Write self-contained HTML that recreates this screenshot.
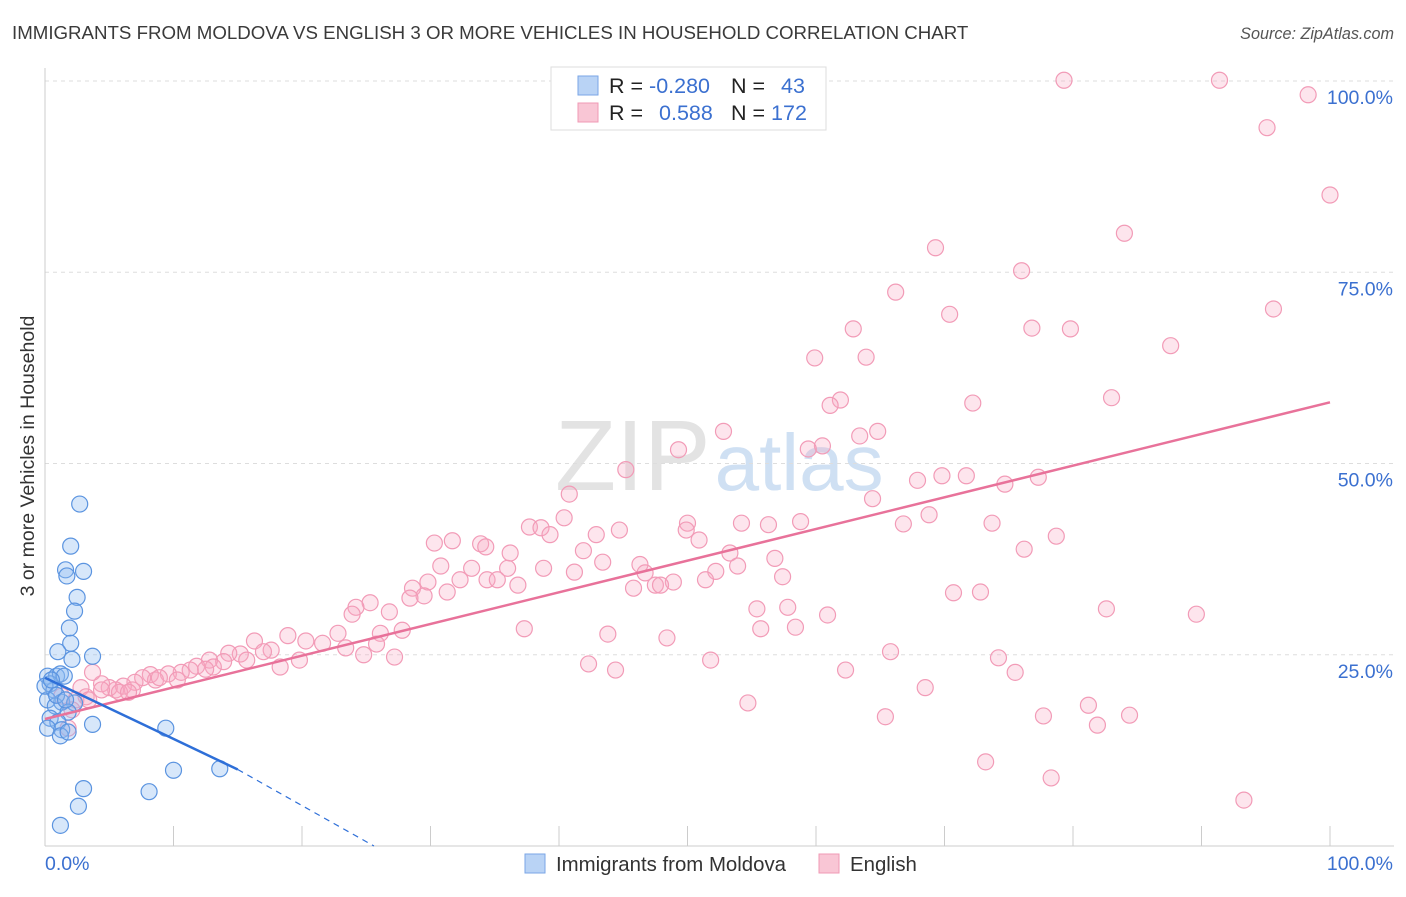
<!DOCTYPE html>
<html><head><meta charset="utf-8"><style>
body{margin:0;background:#fff;font-family:"Liberation Sans",sans-serif;}
svg text{font-family:"Liberation Sans",sans-serif;}
</style></head><body>
<svg id="chart" width="1406" height="892" xmlns="http://www.w3.org/2000/svg">
<text x="12" y="39" font-size="18.7" fill="#3a3a3a">IMMIGRANTS FROM MOLDOVA VS ENGLISH 3 OR MORE VEHICLES IN HOUSEHOLD CORRELATION CHART</text>
<text x="1394" y="39" font-size="16.2" fill="#555" font-style="italic" text-anchor="end">Source: ZipAtlas.com</text>
<text x="555" y="490" font-size="100" fill="#e3e3e3" font-family="Liberation Serif">ZIP<tspan fill="#cfe0f3" font-family="Liberation Sans" font-size="80" dx="4">atlas</tspan></text>
<text transform="translate(34,456) rotate(-90)" font-size="19.5" fill="#333" text-anchor="middle">3 or more Vehicles in Household</text>
<g id="grid"></g><g id="axes"></g><g id="pink"></g><g id="blue"></g><g id="trends"></g>
<g>
<rect x="551" y="67" width="275" height="63" fill="#fff" stroke="#ddd"/>
<rect x="578" y="76" width="20" height="19" fill="#b9d3f5" stroke="#7aa6e6"/>
<rect x="578" y="103" width="20" height="19" fill="#f9c6d5" stroke="#f09ab5"/>
<text x="609" y="93" font-size="21.5" fill="#222">R = <tspan fill="#3b70d0">-0.280</tspan></text>
<text x="731" y="93" font-size="21.5" fill="#222">N = <tspan fill="#3b70d0" dx="10">43</tspan></text>
<text x="609" y="120" font-size="21.5" fill="#222">R = <tspan fill="#3b70d0" dx="10">0.588</tspan></text>
<text x="731" y="120" font-size="21.5" fill="#222">N = <tspan fill="#3b70d0">172</tspan></text>
</g>
<g>
<rect x="525" y="854" width="20" height="19" fill="#b9d3f5" stroke="#7aa6e6"/>
<text x="556" y="871" font-size="20.4" fill="#333">Immigrants from Moldova</text>
<rect x="819" y="854" width="20" height="19" fill="#f9c6d5" stroke="#f09ab5"/>
<text x="850" y="871" font-size="20.4" fill="#333">English</text>
</g>
</svg>
<script>
const yTicks=[25,50,75,100];
const yTickLabels=["25.0%","50.0%","75.0%","100.0%"];
const xTickLabels=["0.0%","100.0%"];
const blueX=[2.7,2.0,1.6,1.7,3.0,2.5,2.3,1.9,2.0,1.0,3.7,2.1,0.2,0.9,1.2,1.5,0.4,0.7,0.2,1.3,2.3,0.8,1.8,0.4,1.0,3.7,0.2,1.3,1.2,1.8,9.4,10.0,13.6,3.0,8.1,2.6,1.2,0,0.5,0.9,1.6];
const blueY=[44.7,39.2,36.1,35.3,35.9,32.5,30.7,28.5,26.5,25.4,24.8,24.4,22.2,22.2,22.5,22.2,21.2,20.4,19.1,18.8,18.7,18.3,17.5,16.7,16.2,15.9,15.4,15.2,14.4,14.9,15.4,9.9,10.1,7.5,7.1,5.2,2.7,20.9,21.7,19.7,19.1];
const pinkX=[79.3,91.4,98.3,95.1,100,84.0,69.3,76.0,66.2,95.6,70.4,62.9,76.8,79.8,87.6,59.9,63.9,83.0,61.9,61.1,72.2,52.8,64.8,63.4,60.5,59.4,49.3,45.2,69.8,71.7,67.9,77.3,74.7,40.8,64.4,40.4,37.7,38.6,39.3,50.0,54.2,56.3,58.8,68.8,66.8,73.7,44.7,42.9,49.9,50.9,78.7,76.2,30.3,31.7,33.9,34.3,36.2,41.9,43.4,53.3,56.8,53.9,46.3,30.8,33.2,36.0,38.8,41.2,46.7,52.2,57.4,29.8,32.3,34.4,35.2,36.8,28.6,29.5,45.8,47.5,48.9,47.9,51.4,28.4,31.3,25.3,24.2,26.8,23.9,55.4,57.8,82.6,89.6,70.7,72.8,60.9,37.3,27.8,26.1,22.8,55.7,58.4,43.8,48.4,18.9,16.3,20.3,21.6,23.4,25.8,65.8,74.2,51.8,42.3,44.4,62.3,75.5,27.2,24.8,19.8,17.6,17.0,15.2,14.3,15.7,18.3,13.9,12.8,13.1,11.8,12.5,11.3,10.6,9.6,8.2,8.6,7.6,10.3,8.9,7.0,6.1,5.5,5.0,4.4,3.7,6.8,5.8,6.5,4.4,2.8,3.2,1.3,2.4,3.4,2.1,1.8,68.5,54.7,81.2,84.4,65.4,77.7,81.9,73.2,78.3,93.3];
const pinkY=[100.1,100.1,98.2,93.9,85.1,80.1,78.2,75.2,72.4,70.2,69.5,67.6,67.7,67.6,65.4,63.8,63.9,58.6,58.3,57.6,57.9,54.2,54.2,53.6,52.3,51.9,51.8,49.2,48.4,48.4,47.8,48.2,47.3,46.0,45.4,42.9,41.7,41.6,40.7,42.2,42.2,42.0,42.4,43.3,42.1,42.2,41.3,40.7,41.3,40.0,40.5,38.8,39.6,39.9,39.5,39.1,38.3,38.6,37.1,38.3,37.6,36.6,36.8,36.6,36.3,36.3,36.3,35.8,35.7,35.9,35.2,34.5,34.8,34.8,34.8,34.1,33.7,32.7,33.7,34.1,34.5,34.1,34.8,32.4,33.2,31.8,31.2,30.6,30.3,31.0,31.2,31.0,30.3,33.1,33.2,30.2,28.4,28.2,27.8,27.8,28.4,28.6,27.7,27.2,27.5,26.8,26.8,26.5,25.9,26.4,25.4,24.6,24.3,23.8,23.0,23.0,22.7,24.7,25.0,24.3,25.6,25.4,25.1,25.2,24.3,23.4,24.1,24.3,23.4,23.5,23.1,23.0,22.7,22.5,22.4,21.7,22.0,21.7,22.0,21.4,20.9,20.4,20.7,21.2,22.7,20.4,20.1,20.1,20.4,20.7,19.5,19.6,19.1,19.1,17.8,15.4,20.7,18.7,18.4,17.1,16.9,17.0,15.8,11.0,8.9,6.0];
const blueTrend=[[0,22.0],[15,10.0],[25.6,0]];
const pinkTrend=[[0,16.6],[100,58.0]];
const NS="http://www.w3.org/2000/svg";
const X0=45,X1=1330,Y0=846,Y100=81;
const sx=v=>X0+(X1-X0)*v/100, sy=v=>Y0-(Y0-Y100)*v/100;
function mk(tag,attrs,parent){const e=document.createElementNS(NS,tag);for(const k in attrs)e.setAttribute(k,attrs[k]);document.getElementById(parent).appendChild(e);return e;}
yTicks.forEach((t,i)=>{
 const g=mk('line',{x1:X0,x2:1394,y1:sy(t),y2:sy(t),stroke:'#ddd','stroke-dasharray':'4,4'},'grid');
 
 
 const l=mk('text',{x:1393,y:sy(t)+23,'font-size':19.5,fill:'#3b70d0','text-anchor':'end'},'grid');
 l.textContent=yTickLabels[i];
 
 
});
const ax=mk('line',{x1:X0,x2:X0,y1:68,y2:Y0,stroke:'#ccc'},'axes');


const bx=mk('line',{x1:X0,x2:1394,y1:Y0,y2:Y0,stroke:'#ccc'},'axes');


for(let i=0;i<=10;i++){
 const t=mk('line',{x1:sx(i*10),x2:sx(i*10),y1:826,y2:Y0,stroke:'#ccc'},'axes');
 
 
}
[[0,'start',45],[100,'end',1393]].forEach((d,i)=>{
 const t=mk('text',{x:d[2],y:870,'font-size':19.5,fill:'#3b70d0','text-anchor':d[1]},'axes');
 t.textContent=xTickLabels[i];
 
 
});
pinkX.forEach((v,i)=>{
 const c=mk('circle',{cx:sx(v),cy:sy(pinkY[i]),r:8,fill:'rgba(247,170,195,0.3)',stroke:'#f29bb7','stroke-width':1.2},'pink');
 
 
});
blueX.forEach((v,i)=>{
 const c=mk('circle',{cx:sx(v),cy:sy(blueY[i]),r:8,fill:'rgba(140,185,240,0.35)',stroke:'#5b94e0','stroke-width':1.2},'blue');
 
 
});
const pt=mk('line',{x1:sx(pinkTrend[0][0]),y1:sy(pinkTrend[0][1]),x2:sx(pinkTrend[1][0]),y2:sy(pinkTrend[1][1]),stroke:'#e8729a','stroke-width':2.5},'trends');


const b1=mk('line',{x1:sx(blueTrend[0][0]),y1:sy(blueTrend[0][1]),x2:sx(blueTrend[1][0]),y2:sy(blueTrend[1][1]),stroke:'#2e6fd8','stroke-width':2.5},'trends');


const b2=mk('line',{x1:sx(blueTrend[1][0]),y1:sy(blueTrend[1][1]),x2:sx(blueTrend[2][0]),y2:sy(blueTrend[2][1]),stroke:'#2e6fd8','stroke-width':1.2,'stroke-dasharray':'6,5'},'trends');


</script>
</body></html>
